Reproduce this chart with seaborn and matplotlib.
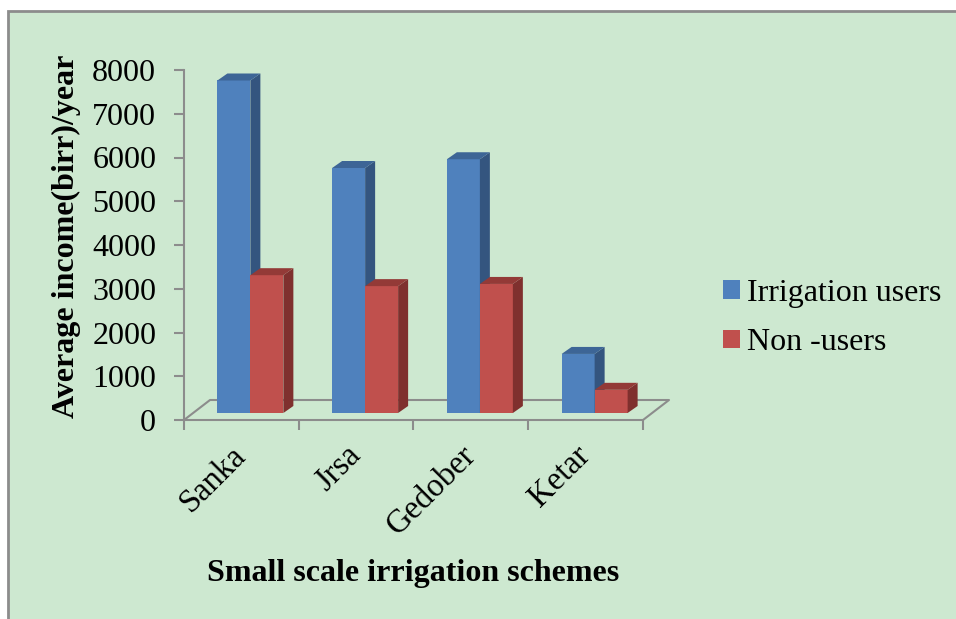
import pandas as pd
import matplotlib.pyplot as plt
from matplotlib.patches import Rectangle, Polygon
from matplotlib.lines import Line2D
import seaborn as sns

# chart data
schemes = ["Sanka", "Jrsa", "Gedober", "Ketar"]
users = [7600, 5600, 5800, 1350]
non_users = [3150, 2900, 2950, 530]
groups = ["Irrigation users", "Non -users"]

df = pd.DataFrame({
    "scheme": schemes * 2,
    "income": users + non_users,
    "group": [groups[0]] * 4 + [groups[1]] * 4,
})

front = {"Irrigation users": "#4F81BD", "Non -users": "#C0504D"}
side = {"Irrigation users": "#34557F", "Non -users": "#7F302E"}
top = {"Irrigation users": "#3D6596", "Non -users": "#933A37"}
bg = "#CDE8D0"
grey = "#8C8C8C"

sns.set_style("white")
plt.rcParams["font.family"] = ["Liberation Serif", "DejaVu Serif"]
plt.rcParams["text.color"] = "black"
plt.rcParams["axes.labelcolor"] = "black"
plt.rcParams["xtick.labelcolor"] = "black"
plt.rcParams["ytick.labelcolor"] = "black"

W, H = 956, 619
fig = plt.figure(figsize=(W / 100, H / 100), dpi=100, facecolor="white")
fig.patches.append(Rectangle((8 / W, -0.01), 1.0, (H - 11) / H + 0.01,
                             transform=fig.transFigure, facecolor=bg,
                             edgecolor=grey, linewidth=2, zorder=-5))

ax_l, ax_r, ax_b, ax_t = 184, 643, 420, 70
ax = fig.add_axes([ax_l / W, (H - ax_b) / H, (ax_r - ax_l) / W, (ax_b - ax_t) / H])
ax.set_facecolor("none")

sns.barplot(data=df, x="scheme", y="income", hue="group", palette=front,
            width=0.575, saturation=1, linewidth=0, ax=ax)
ax.set_xlim(-0.5, 3.5)
ax.set_ylim(0, 8000)

# pixel -> data conversions for the 3d look
px_x = 4 / (ax_r - ax_l)
px_y = 8000 / (ax_b - ax_t)
shift_x, shift_y = 9 * px_x, 7 * px_y
dep_x, dep_y = 10 * px_x, 7 * px_y

for i, (cont, g) in enumerate(zip(ax.containers, groups)):
    for bar in cont:
        x0 = bar.get_x() + shift_x
        w = bar.get_width()
        h = bar.get_height()
        y0 = shift_y
        y1 = y0 + h
        bar.set_x(x0)
        bar.set_y(y0)
        bar.set_zorder(2 + i)
        ax.add_patch(Polygon([(x0 + w, y0), (x0 + w + dep_x, y0 + dep_y),
                              (x0 + w + dep_x, y1 + dep_y), (x0 + w, y1)],
                             closed=True, facecolor=side[g], lw=0, zorder=2 + i))
        ax.add_patch(Polygon([(x0, y1), (x0 + dep_x, y1 + dep_y),
                              (x0 + w + dep_x, y1 + dep_y), (x0 + w, y1)],
                             closed=True, facecolor=top[g], lw=0, zorder=2 + i))

# floor outline
fx, fy = 26 * px_x, 20 * px_y
ax.add_line(Line2D([-0.5, -0.5 + fx, 3.5 + fx, 3.5, -0.5], [0, fy, fy, 0, 0],
                   color=grey, lw=1.5, clip_on=False, zorder=1))

for s in ["top", "right", "bottom"]:
    ax.spines[s].set_visible(False)
ax.spines["left"].set_color(grey)
ax.spines["left"].set_linewidth(1.5)

ax.set_yticks(range(0, 8001, 1000))
ax.tick_params(axis="y", left=True, length=7, width=1.5, color=grey, pad=13,
               labelsize=23)
ax.set_xticks([-0.5, 0.5, 1.5, 2.5, 3.5], minor=True)
ax.tick_params(axis="x", which="minor", bottom=True, length=7, width=1.5, color=grey)
ax.tick_params(axis="x", which="major", bottom=False, length=0, pad=22, labelsize=23.5)
for lab in ax.get_xticklabels():
    lab.set_rotation(45)
    lab.set_ha("right")
    lab.set_va("center")
    lab.set_rotation_mode("anchor")

ax.set_xlabel("Small scale irrigation schemes", fontsize=23, fontweight="bold")
ax.xaxis.set_label_coords(0.5, (ax_b - 573) / (ax_b - ax_t))
ax.xaxis.label.set_va("center")
ax.set_ylabel("Average income(birr)/year", fontsize=23, fontweight="bold")
ax.yaxis.set_label_coords((66 - ax_l) / (ax_r - ax_l), (ax_b - 236) / (ax_b - ax_t))
ax.yaxis.label.set_va("center")

handles = [Rectangle((0, 0), 1, 1, facecolor=front[g], edgecolor="none", lw=0)
           for g in groups]
ax.legend(handles, groups, loc="center left",
          bbox_to_anchor=(723 / W, (H - 318) / H), bbox_transform=fig.transFigure,
          frameon=False, fontsize=23, handlelength=0.53, handleheight=0.53,
          handletextpad=0.22, labelspacing=0.65, borderaxespad=0, borderpad=0)

fig.savefig("out.png", dpi=100, facecolor=fig.get_facecolor())
